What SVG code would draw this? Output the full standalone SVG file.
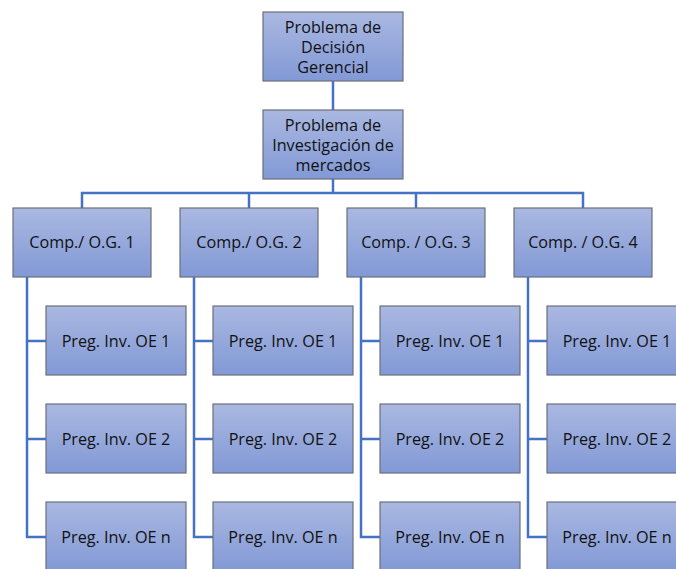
<svg xmlns="http://www.w3.org/2000/svg" width="676" height="569" viewBox="0 0 676 569">
  <defs>
    <linearGradient id="boxFill" x1="0" y1="0" x2="0" y2="1">
      <stop offset="0" stop-color="#aab8e1"/>
      <stop offset="1" stop-color="#8299d6"/>
    </linearGradient>
    <style>
      .box { fill: url(#boxFill); stroke: #6b6f7a; stroke-width: 1.2; }
      .lbl { font-family: "Open Sans", "Liberation Sans", sans-serif; font-size: 16.2px; fill: #111; text-anchor: middle; dominant-baseline: central; }
      .wire { fill: none; stroke: #4472c4; stroke-width: 2.5; }
    </style>
  </defs>
  <rect width="676" height="569" fill="#fff"/>

  <!-- connectors -->
  <g id="connectors">
    <path class="wire" d="M333 81 V110"/>
    <path class="wire" d="M333 179 V193"/>
    <path class="wire" d="M82 208 V193 H583 V208"/>
    <path class="wire" d="M249 193 V208"/>
    <path class="wire" d="M416 193 V208"/>
    <!-- branch spines -->
    <path class="wire" d="M27 277 V537 H46 M27 341 H46 M27 439 H46"/>
    <path class="wire" d="M194 277 V537 H213 M194 341 H213 M194 439 H213"/>
    <path class="wire" d="M361 277 V537 H380 M361 341 H380 M361 439 H380"/>
    <path class="wire" d="M528 277 V537 H547 M528 341 H547 M528 439 H547"/>
  </g>

  <g id="decision">
    <rect class="box" x="263" y="12" width="140" height="69"/>
    <text class="lbl" x="333" y="27">Problema de</text>
    <text class="lbl" x="333" y="47">Decisión</text>
    <text class="lbl" x="333" y="67">Gerencial</text>
  </g>
  <g id="research">
    <rect class="box" x="263" y="110" width="140" height="69"/>
    <text class="lbl" x="333" y="125">Problema de</text>
    <text class="lbl" x="333" y="145">Investigación de</text>
    <text class="lbl" x="333" y="165">mercados</text>
  </g>

  <g id="comp1"><rect class="box" x="13" y="208" width="138" height="69"/><text class="lbl" x="82" y="242">Comp./ O.G. 1</text></g>
  <g id="comp2"><rect class="box" x="180" y="208" width="138" height="69"/><text class="lbl" x="249" y="242">Comp./ O.G. 2</text></g>
  <g id="comp3"><rect class="box" x="347" y="208" width="138" height="69"/><text class="lbl" x="416" y="242">Comp. / O.G. 3</text></g>
  <g id="comp4"><rect class="box" x="514" y="208" width="138" height="69"/><text class="lbl" x="583" y="242">Comp. / O.G. 4</text></g>

  <g id="q1-1"><rect class="box" x="46" y="306" width="140" height="69"/><text class="lbl" x="116" y="341">Preg. Inv. OE 1</text></g>
  <g id="q1-2"><rect class="box" x="46" y="404" width="140" height="69"/><text class="lbl" x="116" y="439">Preg. Inv. OE 2</text></g>
  <g id="q1-n"><rect class="box" x="46" y="502" width="140" height="69"/><text class="lbl" x="116" y="537">Preg. Inv. OE n</text></g>

  <g id="q2-1"><rect class="box" x="213" y="306" width="140" height="69"/><text class="lbl" x="283" y="341">Preg. Inv. OE 1</text></g>
  <g id="q2-2"><rect class="box" x="213" y="404" width="140" height="69"/><text class="lbl" x="283" y="439">Preg. Inv. OE 2</text></g>
  <g id="q2-n"><rect class="box" x="213" y="502" width="140" height="69"/><text class="lbl" x="283" y="537">Preg. Inv. OE n</text></g>

  <g id="q3-1"><rect class="box" x="380" y="306" width="140" height="69"/><text class="lbl" x="450" y="341">Preg. Inv. OE 1</text></g>
  <g id="q3-2"><rect class="box" x="380" y="404" width="140" height="69"/><text class="lbl" x="450" y="439">Preg. Inv. OE 2</text></g>
  <g id="q3-n"><rect class="box" x="380" y="502" width="140" height="69"/><text class="lbl" x="450" y="537">Preg. Inv. OE n</text></g>

  <g id="q4-1"><rect class="box" x="547" y="306" width="140" height="69"/><text class="lbl" x="617" y="341">Preg. Inv. OE 1</text></g>
  <g id="q4-2"><rect class="box" x="547" y="404" width="140" height="69"/><text class="lbl" x="617" y="439">Preg. Inv. OE 2</text></g>
  <g id="q4-n"><rect class="box" x="547" y="502" width="140" height="69"/><text class="lbl" x="617" y="537">Preg. Inv. OE n</text></g>
</svg>
